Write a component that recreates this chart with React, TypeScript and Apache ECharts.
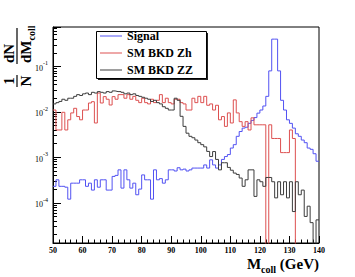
import React, { useEffect, useRef } from "react";
import * as echarts from "echarts";

const xStart = 50;
const xEnd = 140;
const xTickStep = 10;
const yMin = 1.3e-5;
const yMax = 0.74;
const seriesNames = ["Signal", "SM BKD Zh", "SM BKD ZZ"];

// bin contents, 1 GeV bins from 50 to 140 GeV
const signal = [
  0.00023, 0.00032, 0.00023, 0.00023, 0.00022, 0.00012, 0.00027, 0.00027, 0.00027, 0.00032,
  0.00032, 0.00023, 0.00027, 0.00019, 0.00032, 0.00022, 0.00032, 0.00032, 0.00019, 0.00019,
  0.00038, 0.0004, 0.00053, 0.00021, 0.00053, 0.00032, 0.00021, 0.00027, 0.00015, 0.0002,
  0.00041, 0.00032, 0.00032, 0.00012, 0.00053, 0.00032, 0.00034, 0.00027, 0.00032, 0.00053,
  0.00053, 0.0005, 0.00059, 0.00053, 0.00055, 0.0005, 0.00053, 0.00058, 0.00058, 0.00058,
  0.00058, 0.00068, 0.00058, 0.00088, 0.00068, 0.00058, 0.00068, 0.0009, 0.00104, 0.00115,
  0.0016, 0.0019, 0.0029, 0.0037, 0.0044, 0.0046, 0.0056, 0.0065, 0.0075, 0.0094,
  0.011, 0.0135, 0.022, 0.08, 0.4, 0.4, 0.08, 0.018, 0.011, 0.0067,
  0.0056, 0.0044, 0.0033, 0.0029, 0.0024, 0.0021, 0.0016, 0.0015, 0.0012, 0.00082,
];

const bkdZh = [
  0.011, 0.004, 0.004, 0.0098, 0.004, 0.0067, 0.0095, 0.012, 0.0079, 0.0067,
  0.011, 0.011, 0.0157, 0.0168, 0.0057, 0.026, 0.0157, 0.0217, 0.019, 0.0142,
  0.0217, 0.019, 0.024, 0.024, 0.02, 0.024, 0.019, 0.022, 0.018, 0.016,
  0.02, 0.016, 0.015, 0.019, 0.016, 0.018, 0.024, 0.016, 0.02, 0.016,
  0.015, 0.019, 0.019, 0.016, 0.015, 0.011, 0.011, 0.02, 0.016, 0.022,
  0.016, 0.022, 0.014, 0.015, 0.011, 0.014, 0.0067, 0.0079, 0.0048, 0.0095,
  0.0057, 0.0184, 0.0095, 0.0061, 0.0048, 0.0061, 0.004, 0.0074, 0.0052, 0.0052,
  0.0052, 0.0052, 0, 0.0052, 0.0026, 0.0026, 0.0026, 0.00127, 0.00127, 0.00127,
  0.004, 0.0026, 0, 0, 0, 0, 0, 0, 0, 0,
];

const bkdZZ = [
  0.015, 0.016, 0.017, 0.019, 0.018, 0.02, 0.02, 0.022, 0.024, 0.023,
  0.025, 0.026, 0.024, 0.027, 0.026, 0.028, 0.027, 0.026, 0.028, 0.027,
  0.029, 0.028, 0.028, 0.027, 0.025, 0.026, 0.024, 0.025, 0.023, 0.022,
  0.021, 0.02, 0.019, 0.017, 0.018, 0.016, 0.015, 0.013, 0.012, 0.011,
  0.011, 0.02, 0.018, 0.008, 0.0048, 0.0034, 0.0029, 0.0027, 0.0024, 0.0021,
  0.0019, 0.0017, 0.00135, 0.00104, 0.00134, 0.0009, 0.00053, 0.00076, 0.00076, 0.0006,
  0.00052, 0.00045, 0.00042, 0.00035, 0.00023, 0.00032, 0.00053, 0.00053, 0.000138, 0.00032,
  0.00029, 0.00023, 0.00036, 0.00036, 0.00029, 0.000128, 0.00029, 0.00015, 0.00029, 0.000128,
  0.00029, 0.000064, 0.00029, 0.00015, 0.00019, 0.00005, 0.000084, 0.0000365, 0, 0.000042,
];

const colors = ["#5252f2", "#dd5050", "#3c3c3c"];
const serif = "Liberation Serif";

function toSteps(vals: number[]) {
  const pts: number[][] = vals.map((v, i) => [xStart + i, v > 0 ? v : 1e-9]);
  const last = vals[vals.length - 1];
  pts.push([xStart + vals.length, last > 0 ? last : 1e-9]);
  return pts;
}

export default function App() {
  const ref = useRef<HTMLDivElement>(null);
  useEffect(() => {
    if (!ref.current) return;
    const chart = echarts.init(ref.current, null, { renderer: "svg" });
    const allData = [signal, bkdZh, bkdZZ];
    chart.setOption({
      animation: false,
      grid: {
        left: 53,
        right: 36,
        top: 27,
        bottom: 34,
        show: true,
        borderColor: "#000",
        borderWidth: 1,
      },
      legend: {
        orient: "vertical",
        left: 100,
        top: 29,
        padding: 0,
        itemGap: 3,
        itemWidth: 22,
        itemHeight: 1,
        icon: "rect",
        z: 6,
        data: seriesNames,
        textStyle: {
          fontFamily: serif,
          fontWeight: "bold",
          fontSize: 12,
          lineHeight: 14,
          color: "#000",
        },
      },
      xAxis: {
        type: "value",
        min: xStart,
        max: xEnd,
        interval: xTickStep,
        axisLine: { show: true, lineStyle: { color: "#000", width: 1 } },
        axisTick: { show: true, inside: true, length: 7, lineStyle: { color: "#000" } },
        minorTick: { show: true, splitNumber: 5, length: 3.5, lineStyle: { color: "#000" } },
        splitLine: { show: false },
        axisLabel: {
          margin: 3,
          fontFamily: serif,
          fontWeight: "bold",
          fontSize: 8,
          color: "#000",
        },
      },
      yAxis: {
        type: "log",
        logBase: 10,
        min: yMin,
        max: yMax,
        axisLine: { show: true, lineStyle: { color: "#000", width: 1 } },
        axisTick: { show: true, inside: true, length: 8, lineStyle: { color: "#000" } },
        minorTick: { show: true, splitNumber: 9, length: 4, lineStyle: { color: "#000" } },
        splitLine: { show: false },
        axisLabel: {
          margin: 5,
          showMinLabel: false,
          showMaxLabel: false,
          formatter: (v: number) => {
            const e = Math.round(Math.log10(v));
            return "{b|10}{s|" + e + "}";
          },
          rich: {
            b: { fontFamily: serif, fontSize: 8, color: "#000", lineHeight: 12, verticalAlign: "bottom" },
            s: { fontFamily: serif, fontSize: 6, color: "#000", lineHeight: 12, verticalAlign: "top" },
          },
        },
      },
      graphic: [
        {
          type: "rect",
          z: 3,
          shape: { x: 98, y: 33, width: 110, height: 47 },
          style: { fill: "#222" },
        },
        {
          type: "rect",
          z: 4,
          shape: { x: 96.5, y: 31.5, width: 110, height: 47 },
          style: { fill: "#fff", stroke: "#000", lineWidth: 1 },
        },
        {
          type: "group",
          x: 17,
          y: 87,
          rotation: Math.PI / 2,
          children: [
            {
              type: "text",
              x: 6,
              y: -1,
              style: {
                text: "1",
                font: "bold 15px " + serif,
                fill: "#000",
                align: "center",
                verticalAlign: "bottom",
                textAlign: "center",
                textVerticalAlign: "bottom",
              },
            },
            { type: "line", shape: { x1: 0, y1: 0, x2: 12, y2: 0 }, style: { stroke: "#000", lineWidth: 1.2 } },
            {
              type: "text",
              x: 6,
              y: 1,
              style: {
                text: "N",
                font: "bold 15px " + serif,
                fill: "#000",
                align: "center",
                verticalAlign: "top",
                textAlign: "center",
                textVerticalAlign: "top",
              },
            },
            {
              type: "text",
              x: 24,
              y: -1,
              style: {
                text: "dN",
                font: "bold 15px " + serif,
                fill: "#000",
                align: "left",
                verticalAlign: "bottom",
                textAlign: "left",
                textVerticalAlign: "bottom",
              },
            },
            { type: "line", shape: { x1: 23, y1: 0, x2: 59, y2: 0 }, style: { stroke: "#000", lineWidth: 1.2 } },
            {
              type: "text",
              x: 24,
              y: 1,
              style: {
                text: "{m|dM}{s|coll}",
                fill: "#000",
                align: "left",
                verticalAlign: "top",
                textAlign: "left",
                textVerticalAlign: "top",
                rich: {
                  m: { fontFamily: serif, fontWeight: "bold", fontSize: 15, lineHeight: 18, verticalAlign: "top" },
                  s: { fontFamily: serif, fontWeight: "bold", fontSize: 10, lineHeight: 18, verticalAlign: "bottom" },
                },
              },
            },
          ],
        },
        {
          type: "text",
          x: 319,
          y: 274,
          style: {
            text: "{m|M}{s|coll}{m| (GeV)}",
            fill: "#000",
            align: "right",
            verticalAlign: "bottom",
            textAlign: "right",
            textVerticalAlign: "bottom",
            rich: {
              m: { fontFamily: serif, fontWeight: "bold", fontSize: 15, lineHeight: 18, verticalAlign: "top" },
              s: { fontFamily: serif, fontWeight: "bold", fontSize: 10, lineHeight: 18, verticalAlign: "bottom" },
            },
          },
        },
      ],
      series: seriesNames.map((name, i) => ({
        name,
        type: "line",
        step: "end",
        symbol: "none",
        clip: true,
        z: 2 + i * 0.1,
        color: colors[i],
        lineStyle: { color: colors[i], width: 1 },
        data: toSteps(allData[i]),
      })),
    });
    return () => chart.dispose();
  }, []);
  return (
    <div
      ref={ref}
      style={{ position: "fixed", left: 0, top: 0, width: 355, height: 277, background: "#fff" }}
    />
  );
}
